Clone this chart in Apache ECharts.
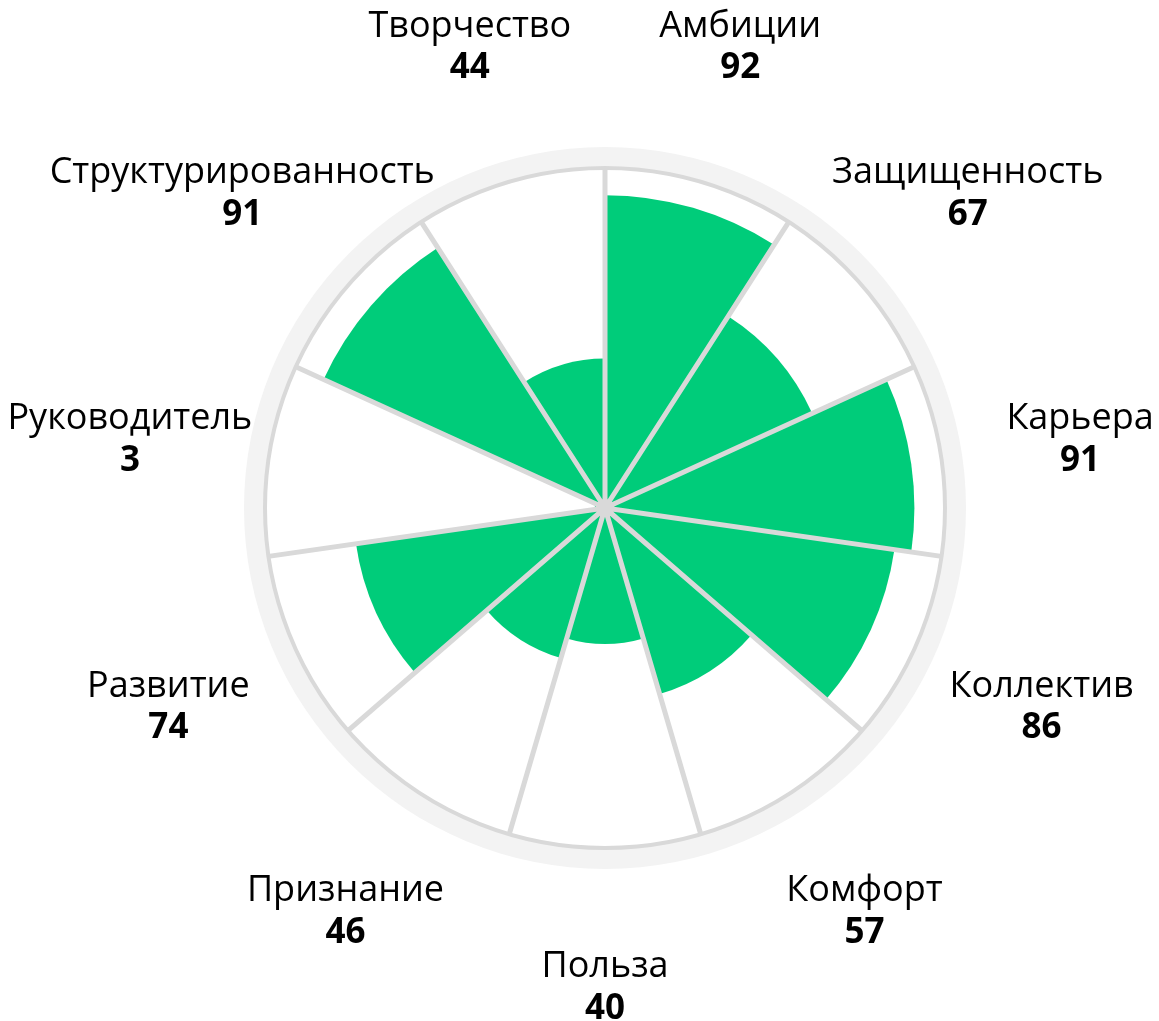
<!DOCTYPE html>
<html>
<head>
<meta charset="utf-8">
<script src="https://cdn.jsdelivr.net/npm/echarts@6/dist/echarts.min.js"></script>
<style>
html,body{margin:0;padding:0;background:#fff;}
#chart{width:1159px;height:1021px;}
</style>
</head>
<body>
<div id="chart"></div>
<script>
const categories = ['Амбиции','Защищенность','Карьера','Коллектив','Комфорт','Польза','Признание','Развитие','Руководитель','Структурированность','Творчество'];
const values = [92, 67, 91, 86, 57, 40, 46, 74, 3, 91, 44];
const maxValue = 100;

const center = [605, 508];
const chart = echarts.init(document.getElementById('chart'));
const option = {
  backgroundColor: '#ffffff',
  animation: false,
  polar: [
    { center: center, radius: 340 },
    { center: center, radius: 480 }
  ],
  angleAxis: [
    {
      polarIndex: 0, type: 'category', data: categories, startAngle: 90, clockwise: true,
      z: 5,
      axisLine: { show: true, lineStyle: { color: '#d9d9d9', width: 4 } },
      axisTick: { show: false },
      axisLabel: { show: false },
      splitLine: { show: true, lineStyle: { color: '#d9d9d9', width: 5 } }
    },
    {
      polarIndex: 1, type: 'category', data: categories, startAngle: 90, clockwise: true,
      axisLine: { show: false }, axisTick: { show: false }, axisLabel: { show: false }, splitLine: { show: false }
    }
  ],
  radiusAxis: [
    { polarIndex: 0, min: 0, max: maxValue, axisLine: { show: false }, axisTick: { show: false }, axisLabel: { show: false }, splitLine: { show: false } },
    { polarIndex: 1, min: 0, max: 1, axisLine: { show: false }, axisTick: { show: false }, axisLabel: { show: false }, splitLine: { show: false } }
  ],
  series: [
    {
      type: 'pie', center: center, radius: [340, 361], silent: true, z: 0,
      label: { show: false }, labelLine: { show: false },
      itemStyle: { color: '#f3f3f3' },
      data: [{ value: 1, name: 'ring' }]
    },
    {
      type: 'bar', coordinateSystem: 'polar', polarIndex: 0,
      data: values, barCategoryGap: '0%', z: 2,
      itemStyle: { color: '#00cc7a' }
    },
    {
      type: 'scatter', coordinateSystem: 'polar', polarIndex: 1,
      symbol: 'circle', symbolSize: 0, itemStyle: { color: '#ffffff', opacity: 1 },
      data: categories.map((c, i) => ({ value: [1, c], v: values[i] })),
      label: {
        show: true, position: 'inside', color: '#000000', opacity: 1,
        textBorderWidth: 0, textShadowBlur: 0,
        formatter: (p) => '{n|' + p.data.value[1] + '}\n{v|' + p.data.v + '}',
        rich: {
          n: { fontFamily: 'Open Sans', fontSize: 36, lineHeight: 42, color: '#000000', align: 'center' },
          v: { fontFamily: 'Open Sans', fontSize: 35, fontWeight: 'bold', lineHeight: 42, color: '#000000', align: 'center' }
        }
      }
    }
  ]
};
chart.setOption(option);
</script>
</body>
</html>
